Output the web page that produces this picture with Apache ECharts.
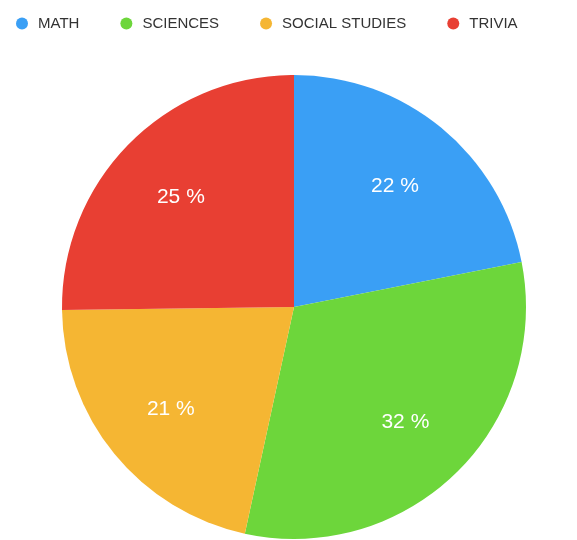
<!DOCTYPE html>
<html><head><meta charset="utf-8">
<script src="https://cdn.jsdelivr.net/npm/echarts@6/dist/echarts.min.js"></script>
<style>html,body{margin:0;padding:0;background:#fff}#c{width:577px;height:540px}</style>
</head><body><div id="c"></div>
<script>
const categories = ['MATH', 'SCIENCES', 'SOCIAL STUDIES', 'TRIVIA'];
// slice sizes
const values = [21.9, 31.5, 21.4, 25.2];
// percentages as printed on the slices
const percentLabels = ['22 %', '32 %', '21 %', '25 %'];
const colors = ['#3a9ff5', '#6dd63b', '#f5b633', '#e83f33'];

const data = categories.map((n, i) => ({ name: n, value: values[i], itemStyle: { color: colors[i] } }));
const chart = echarts.init(document.getElementById('c'));
chart.setOption({
  animation: false,
  legend: {
    top: 11, left: 11, icon: 'circle', itemWidth: 12, itemHeight: 12, itemGap: 41,
    textStyle: { fontFamily: 'Liberation Sans, Arial', fontSize: 15, color: '#333', padding: [0, 0, 0, 5] },
    data: categories
  },
  series: [
    {
      type: 'pie', center: [294, 307], radius: [0, 232], startAngle: 90, clockwise: true,
      label: { show: false }, labelLine: { show: false }, silent: true,
      data: data
    },
    {
      type: 'pie', center: [294, 307], radius: [80, 232], startAngle: 90, clockwise: true,
      silent: true,
      label: { show: true, position: 'inside', offset: [0, 2], formatter: p => percentLabels[p.dataIndex], color: '#fff', fontSize: 21, fontFamily: 'Liberation Sans, Arial' },
      labelLine: { show: false },
      data: categories.map((n, i) => ({ name: n, value: values[i], itemStyle: { color: 'rgba(0,0,0,0)' } }))
    }
  ]
});
</script></body></html>
